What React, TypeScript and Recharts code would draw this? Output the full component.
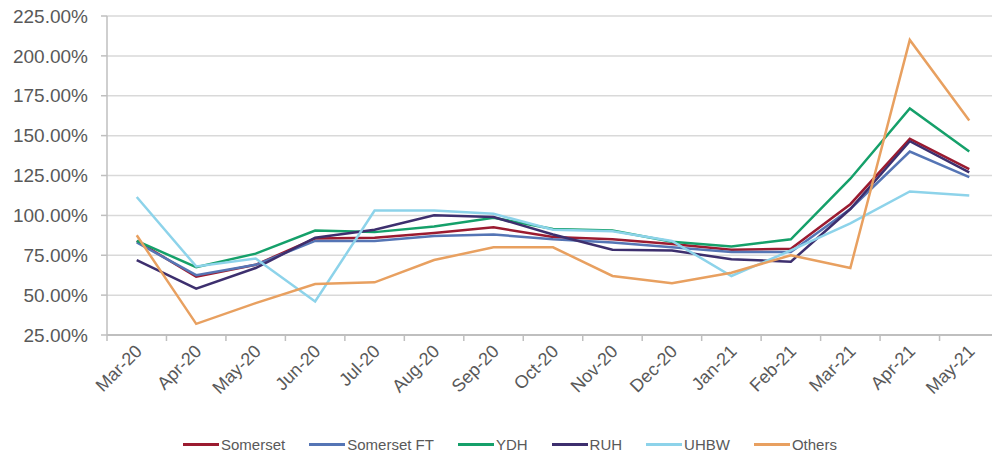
import React from "react";
import { LineChart, Line, XAxis, YAxis, CartesianGrid, Legend } from "recharts";

const months = ["Mar-20","Apr-20","May-20","Jun-20","Jul-20","Aug-20","Sep-20","Oct-20","Nov-20","Dec-20","Jan-21","Feb-21","Mar-21","Apr-21","May-21"];
const somerset = [84, 61.5, 69, 85.5, 86, 89, 92.5, 86.5, 85, 82, 78.5, 79, 107, 148, 129];
const somersetFT = [83, 62.5, 69, 84, 84, 87, 88, 85, 83, 80, 77, 77, 104, 140, 124];
const ydh = [84, 67.5, 76, 90.5, 89.5, 93, 98.5, 91.5, 90.5, 83.5, 80.5, 85, 123, 167, 140];
const ruh = [72, 54, 67, 86, 91, 100, 99, 88, 78.5, 78, 72.5, 71, 104, 146.5, 127];
const uhbw = [111.5, 68, 73, 46, 103, 103, 101, 91, 90, 84, 62, 78, 95, 115, 112.5];
const others = [87.5, 32, 45, 57, 58, 72, 80, 80, 62, 57.5, 64, 75, 67, 210, 159.5];
const yTicks = [25, 50, 75, 100, 125, 150, 175, 200, 225];

const seriesNames = ["Somerset", "Somerset FT", "YDH", "RUH", "UHBW", "Others"];
const seriesKeys = ["somerset", "somersetFT", "ydh", "ruh", "uhbw", "others"];
const seriesColors = ["#9B1B30", "#5575B5", "#15A06A", "#3D2F6E", "#8DD3EA", "#E8A060"];
const seriesValues = [somerset, somersetFT, ydh, ruh, uhbw, others];

const data = months.map((m, i) => {
  const row: Record<string, any> = { month: m };
  seriesKeys.forEach((k, j) => { row[k] = seriesValues[j][i]; });
  return row;
});

const FONT = "'Liberation Sans', Arial, sans-serif";
const TEXT = "#595959";
const AXIS = "#BFBFBF";

const XTick = (props: any) => {
  const { x, y, payload, index } = props;
  const off = payload && payload.offset ? payload.offset : 0;
  return (
    <g>
      <line x1={x - off} x2={x - off} y1={y} y2={y + 6} stroke={AXIS} strokeWidth={1.5} />
      {index === months.length - 1 && (
        <line x1={x + off} x2={x + off} y1={y} y2={y + 6} stroke={AXIS} strokeWidth={1.5} />
      )}
      <text
        transform={`translate(${x + 2},${y + 13}) rotate(-45)`}
        textAnchor="end"
        dy="0.35em"
        fontSize={18}
        fontFamily={FONT}
        fill={TEXT}
      >
        {payload.value}
      </text>
    </g>
  );
};

const LegendContent = () => (
  <div style={{ display: "flex", alignItems: "center", height: 24, paddingLeft: 175, fontFamily: FONT, fontSize: 15, color: TEXT }}>
    {seriesNames.map((n, i) => (
      <div key={n} style={{ display: "flex", alignItems: "center", marginRight: 24 }}>
        <div style={{ width: 36, height: 3, background: seriesColors[i], marginRight: 2 }} />
        <span>{n}</span>
      </div>
    ))}
  </div>
);

export default function App() {
  return (
    <div style={{ marginTop: -8, width: 992, height: 456 }}>
      <LineChart width={992} height={456} data={data} margin={{ top: 16, right: 1, left: 0, bottom: 0 }}>
        <CartesianGrid vertical={false} stroke="#D9D9D9" strokeWidth={1.5} />
        <XAxis
          dataKey="month"
          scale="band"
          height={97}
          interval={0}
          tickSize={0}
          tickMargin={0}
          tickLine={false}
          stroke={AXIS}
          strokeWidth={2}
          tick={<XTick />}
        />
        <YAxis
          width={99}
          domain={[25, 225]}
          ticks={yTicks}
          interval={0}
          tickSize={6}
          tickMargin={13}
          stroke={AXIS}
          strokeWidth={1.5}
          tick={{ fontSize: 19, fontFamily: FONT, fill: TEXT }}
          tickFormatter={(v: number) => `${v.toFixed(2)}%`}
        />
        <Legend verticalAlign="bottom" height={24} content={<LegendContent />} />
        {seriesKeys.map((k, i) => (
          <Line
            key={k}
            type="linear"
            dataKey={k}
            name={seriesNames[i]}
            stroke={seriesColors[i]}
            strokeWidth={2.5}
            dot={false}
            isAnimationActive={false}
          />
        ))}
      </LineChart>
    </div>
  );
}
